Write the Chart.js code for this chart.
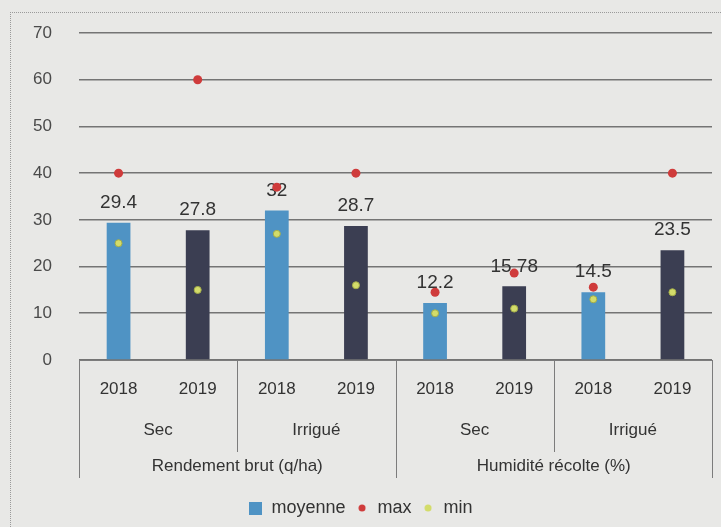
<!DOCTYPE html>
<html>
<head>
<meta charset="utf-8">
<script src="https://cdn.jsdelivr.net/npm/chart.js@4/dist/chart.umd.min.js"></script>
<style>
  html,body{margin:0;padding:0;background:#e8e8e6}
  #wrap{position:relative;width:721px;height:527px}
  #frame{position:absolute;left:10px;top:12px;right:0;bottom:0;border-top:1px dotted #9a9a9a;border-left:1px dotted #9a9a9a;pointer-events:none}
</style>
</head>
<body>
<div id="wrap">
  <div id="frame"></div>
  <canvas id="c" width="721" height="527"></canvas>
</div>
<script>
// data
const years      = ['2018','2019','2018','2019','2018','2019','2018','2019'];
const irrigation = ['Sec','Irrigué','Sec','Irrigué'];
const measures   = ['Rendement brut (q/ha)','Humidité récolte (%)'];
const moyenne    = [29.4, 27.8, 32, 28.7, 12.2, 15.78, 14.5, 23.5];
const maxVals    = [40, 60, 37, 40, 14.5, 18.6, 15.6, 40];
const minVals    = [25, 15, 27, 16, 10, 11, 13, 14.5];
const yTicks     = [0, 10, 20, 30, 40, 50, 60, 70];

const BLUE = '#4f93c4', DARK = '#3b3e52', RED = '#cf3b3b', GREEN = '#d3dc6a', TXT = '#333', LINE = '#7c7c7c';
const FONT = "'Liberation Sans', Arial, sans-serif";

function swatch(kind, color){
  const s = kind==='rect' ? 13 : 8;
  const c = document.createElement('canvas'); c.width = s; c.height = s;
  const g = c.getContext('2d'); g.fillStyle = color;
  if (kind==='rect') g.fillRect(0,0,s,s);
  else { g.beginPath(); g.arc(s/2,s/2,s/2-0.5,0,Math.PI*2); g.fill(); }
  return c;
}
const legendIcons = [swatch('rect',BLUE), swatch('dot',RED), swatch('dot',GREEN)];

// value labels above bars
const barLabels = {
  id:'barLabels',
  afterDatasetDraw(chart, args){
    if (args.index !== 0) return;
    const ctx = chart.ctx;
    ctx.save();
    ctx.font = `19px ${FONT}`; ctx.fillStyle = TXT;
    ctx.textAlign = 'center'; ctx.textBaseline = 'middle';
    args.meta.data.forEach((bar,i)=>ctx.fillText(String(moyenne[i]), bar.x, bar.y - 20));
    ctx.restore();
  }
};

// multi-level category axis: separators + group labels
const groupAxis = {
  id:'groupAxis',
  afterDraw(chart){
    const x = chart.scales.x, a = chart.chartArea, ctx = chart.ctx, n = years.length;
    const edge = i => i===0 ? a.left : i===n ? a.right : (x.getPixelForValue(i-1)+x.getPixelForValue(i))/2;
    ctx.save();
    ctx.strokeStyle = LINE; ctx.lineWidth = 1;
    for (let i=0;i<=n;i+=2){
      const px = Math.round(edge(i))+0.5;
      ctx.beginPath(); ctx.moveTo(px, a.bottom); ctx.lineTo(px, i%4===0 ? 478 : 452); ctx.stroke();
    }
    ctx.font = `17px ${FONT}`; ctx.fillStyle = TXT; ctx.textAlign='center'; ctx.textBaseline='middle';
    irrigation.forEach((t,g)=>ctx.fillText(t,(edge(2*g)+edge(2*g+2))/2, 430));
    measures.forEach((t,m)=>ctx.fillText(t,(edge(4*m)+edge(4*m+4))/2, 466));
    ctx.restore();
  }
};

new Chart(document.getElementById('c'), {
  type:'bar',
  data:{
    labels: years,
    datasets:[
      { label:'moyenne', data:moyenne, order:3,
        backgroundColor: years.map(y=>y==='2018'?BLUE:DARK),
        barPercentage:0.6, categoryPercentage:0.5 },
      { type:'line', label:'max', data:maxVals, order:1, showLine:false,
        pointRadius:4.5, pointBackgroundColor:RED, pointBorderColor:RED, pointBorderWidth:0 },
      { type:'line', label:'min', data:minVals, order:2, showLine:false,
        pointRadius:3.5, pointBackgroundColor:GREEN, pointBorderColor:'#a3ad4a', pointBorderWidth:1 }
    ]
  },
  options:{
    responsive:false, animation:false,
    layout:{ padding:{ top:33, left:10, right:9, bottom:0 } },
    plugins:{
      tooltip:{ enabled:false },
      legend:{
        position:'bottom',
        labels:{
          usePointStyle:true, boxWidth:13, boxHeight:13, padding:10,
          color:TXT, font:{ family:FONT, size:18 },
          sort:(a,b)=>a.datasetIndex-b.datasetIndex,
          generateLabels(chart){
            const items = Chart.defaults.plugins.legend.labels.generateLabels(chart);
            items.forEach(it=>{ it.pointStyle = legendIcons[it.datasetIndex]; });
            return items;
          }
        }
      }
    },
    scales:{
      x:{
        grid:{ display:false, drawTicks:false },
        border:{ display:true, color:LINE, width:1 },
        ticks:{ color:TXT, font:{ family:FONT, size:17 }, padding:19, maxRotation:0 },
        afterFit(s){ s.height = 129; }
      },
      y:{
        min:0, max:70,
        afterBuildTicks(s){ s.ticks = yTicks.map(v=>({value:v})); },
        grid:{ color:'#747474', lineWidth:1.6, drawTicks:false },
        border:{ display:false },
        ticks:{ color:'#4a4a4a', font:{ family:FONT, size:17 }, padding:27 },
        afterFit(s){ s.width = 69; s.paddingTop = 0; s.paddingBottom = 0; }
      }
    }
  },
  plugins:[barLabels, groupAxis]
});
</script>
</body>
</html>
